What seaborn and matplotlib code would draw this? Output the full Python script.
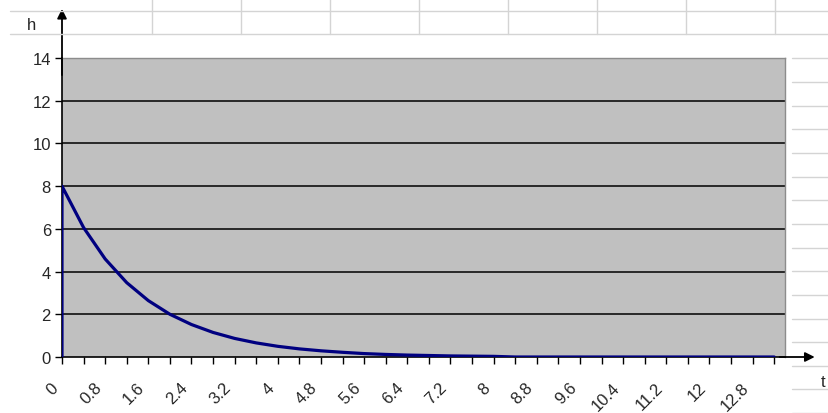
import matplotlib
matplotlib.use("Agg")
import matplotlib.pyplot as plt
import matplotlib.transforms as mtransforms
import seaborn as sns
from matplotlib.lines import Line2D

sns.set_style("white")
plt.rcParams['font.family'] = ['Liberation Sans', 'DejaVu Sans']

# data (t in steps of 0.4, first point drawn from the axis)
t = [0.0, 0.0, 0.4, 0.8, 1.2, 1.6, 2.0, 2.4, 2.8, 3.2, 3.6, 4.0, 4.4, 4.8, 5.2,
     5.6, 6.0, 6.4, 6.8, 7.2, 7.6, 8.0, 8.4, 8.8, 9.2, 9.6, 10.0, 10.4, 10.8,
     11.2, 11.6, 12.0, 12.4, 12.8, 13.2]
h = [0.0, 8.0, 6.06, 4.59, 3.48, 2.64, 2.0, 1.52, 1.15, 0.87, 0.66, 0.50, 0.38,
     0.29, 0.22, 0.16, 0.12, 0.09, 0.07, 0.05, 0.04, 0.03, 0.0, 0.0, 0.0, 0.0,
     0.0, 0.0, 0.0, 0.0, 0.0, 0.0, 0.0, 0.0, 0.0]

x_ticks = [0.0, 0.4, 0.8, 1.2, 1.6, 2.0, 2.4, 2.8, 3.2, 3.6, 4.0, 4.4, 4.8, 5.2,
           5.6, 6.0, 6.4, 6.8, 7.2, 7.6, 8.0, 8.4, 8.8, 9.2, 9.6, 10.0, 10.4,
           10.8, 11.2, 11.6, 12.0, 12.4, 12.8, 13.2]
x_labels = ['0', '', '0.8', '', '1.6', '', '2.4', '', '3.2', '', '4', '', '4.8', '',
            '5.6', '', '6.4', '', '7.2', '', '8', '', '8.8', '', '9.6', '', '10.4',
            '', '11.2', '', '12', '', '12.8', '']
y_ticks = [0, 2, 4, 6, 8, 10, 12, 14]

W, H = 829, 414
fig = plt.figure(figsize=(W / 100, H / 100), dpi=100)
fig.patch.set_facecolor('white')


def px(x, y):
    return x / W, 1 - y / H


# spreadsheet grid behind the chart
for yy in [12, 35]:
    fig.add_artist(Line2D([10 / W, 1], [1 - yy / H] * 2, color='#d4d4d4', lw=1))
for xx in [152, 241, 330, 419, 508, 597, 686, 775]:
    fig.add_artist(Line2D([xx / W] * 2, [1, 1 - 35 / H], color='#d4d4d4', lw=1))
for yy in [59, 83, 107, 130, 154, 178, 201, 225, 249, 272, 296, 320, 343, 367, 390, 414]:
    fig.add_artist(Line2D([792 / W, 1], [1 - yy / H] * 2, color='#d4d4d4', lw=1))

ax = fig.add_axes([62 / W, (H - 358) / H, (785 - 62) / W, (358 - 59) / H])
ax.set_facecolor('#c0c0c0')

for yv in y_ticks[1:-1]:
    ax.axhline(yv, color='black', lw=1.1, zorder=1)

sns.lineplot(x=t, y=h, sort=False, estimator=None, color='#000080', lw=2.3, ax=ax, zorder=3)

ax.set_xlim(0, 13.4)
ax.set_ylim(0, 14)
ax.set_xticks(x_ticks)
ax.set_xticklabels(x_labels, rotation=45, ha='right', va='center',
                   rotation_mode='anchor', fontsize=12)
ax.set_yticks(y_ticks)
ax.set_yticklabels([str(v) for v in y_ticks], fontsize=12)
ax.tick_params(axis='both', direction='out', length=5, width=1, color='black', pad=3,
               bottom=True, left=True)
ax.tick_params(axis='x', pad=15)
ax.set_xlabel('')
ax.set_ylabel('')

# shift the rotated labels a little to the left, like the original
shift = mtransforms.ScaledTranslation(-0.06, 0, fig.dpi_scale_trans)
for lbl in ax.get_xticklabels():
    lbl.set_transform(lbl.get_transform() + shift)

for side in ['top', 'right']:
    ax.spines[side].set_color('#8c8c8c')
    ax.spines[side].set_linewidth(1)
for side in ['left', 'bottom']:
    ax.spines[side].set_color('black')
    ax.spines[side].set_linewidth(1.2)

# axis arrows
ax.annotate('', xy=(0, 16.3), xytext=(0, 13.2), annotation_clip=False,
            arrowprops=dict(arrowstyle='-|>', color='black', lw=1.3, mutation_scale=14,
                            shrinkA=0, shrinkB=0))
ax.annotate('', xy=(13.95, 0), xytext=(13.3, 0), annotation_clip=False,
            arrowprops=dict(arrowstyle='-|>', color='black', lw=1.3, mutation_scale=14,
                            shrinkA=0, shrinkB=0))

fig.text(*px(32, 25), 'h', fontsize=12, ha='center', va='center')
fig.text(*px(823, 383), 't', fontsize=12, ha='center', va='center')

fig.savefig('out.png', dpi=100)
